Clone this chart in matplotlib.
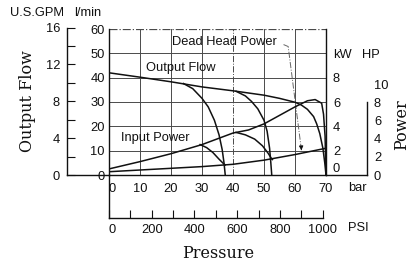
import matplotlib
matplotlib.use("Agg")
import matplotlib.pyplot as plt
import numpy as np

plt.rcParams["font.family"] = ["Liberation Sans", "DejaVu Sans"]
plt.rcParams["font.size"] = 9.3

# --- data (pressure in bar, flow in l/min, power in kW) ---
flow_main_bar = [0, 10, 20, 30, 40, 50, 55, 60, 62, 64, 66, 67, 68, 69, 69.6, 70]
flow_main_lpm = [42.0, 40.2, 38.3, 36.2, 34.6, 32.8, 31.5, 29.9, 28.8, 27.0, 24.0,
                 21.0, 17.0, 11.0, 5.0, 0]
flow_b1_bar = [24, 27, 30, 32, 34, 35.5, 36.5, 37.1, 37.5]
flow_b1_lpm = [37.6, 35.5, 31.5, 28.0, 22.5, 16.5, 10.5, 5.0, 0]
flow_b2_bar = [41, 44, 46, 48, 50, 51, 51.8, 52.2, 52.5]
flow_b2_lpm = [34.4, 32.5, 30.2, 27.2, 22.5, 18.0, 11.0, 5.0, 0]

power_main_bar = [0, 10, 20, 30, 40, 45, 50, 55, 60, 64, 66.5, 68.6, 69.2, 69.7, 70]
power_main_kw = [0.5, 1.1, 1.75, 2.5, 3.45, 3.7, 4.2, 4.9, 5.6, 6.1, 6.2, 5.9, 5.0,
                 3.2, 0]
power_b1_bar = [29.4, 31.5, 33.5, 35.5, 37.0, 37.5]
power_b1_kw = [2.5, 2.25, 1.85, 1.3, 0.92, 0.83]
power_b2_bar = [41.0, 44, 47, 49.5, 51.3, 52.3, 52.7]
power_b2_kw = [3.5, 3.3, 2.95, 2.4, 1.8, 1.4, 1.27]
dead_bar = [0, 10, 20, 30, 40, 50, 60, 70]
dead_kw = [0.27, 0.41, 0.55, 0.69, 0.88, 1.22, 1.68, 2.2]

bar_ticks = [0, 10, 20, 30, 40, 50, 60, 70]
lpm_ticks = [0, 10, 20, 30, 40, 50, 60]
kw_ticks = [0, 2, 4, 6, 8]
gpm_ticks = [0, 4, 8, 12, 16]
gpm_minor = [2, 6, 10, 14]
hp_ticks = [0, 2, 4, 6, 8, 10]
psi_ticks = [0, 200, 400, 600, 800, 1000]
psi_minor = [100, 300, 500, 700, 900]

LPM_PER_GPM = 3.78541
KW_PER_HP = 0.7457
PSI_PER_BAR = 14.5038
LPM_PER_KW = 5.0   # kW scale drawn on the flow grid

W, H = 410, 263


def rect(x0, y0, x1, y1):
    # pixel box (top-left origin) -> figure fraction
    return [x0 / W, 1 - y1 / H, (x1 - x0) / W, (y1 - y0) / H]


INK = "#111111"
GRID = "#4a4a4a"

fig = plt.figure(figsize=(W / 100, H / 100), dpi=100)
fig.patch.set_facecolor("white")

X0, X1, Y0, Y1 = 109, 326, 29, 175

# main chart
ax = fig.add_axes(rect(X0, Y0, X1, Y1))
ax.set_facecolor("none")
ax.set_xlim(0, 70)
ax.set_ylim(0, 60)
for v in bar_ticks[1:-1]:
    ax.axvline(v, color=GRID, lw=0.7, ls="-." if v == 40 else "-", zorder=1)
for v in lpm_ticks[1:-1]:
    ax.axhline(v, color=GRID, lw=0.7, zorder=1)
ax.axhline(60, color=GRID, lw=0.9, ls="-.", zorder=1)
ax.spines["top"].set_visible(False)
for s in ("left", "right", "bottom"):
    ax.spines[s].set_color(INK)
    ax.spines[s].set_linewidth(1.0)
ax.set_xticks(bar_ticks, [str(v) for v in bar_ticks])
ax.set_yticks(lpm_ticks, [str(v) for v in lpm_ticks])
ax.tick_params(axis="x", length=0, pad=6, colors=INK)
ax.tick_params(axis="y", length=0, pad=3, colors=INK)
ax.get_xticklabels()[0].set_horizontalalignment("left")

kw = lambda vals: [v * LPM_PER_KW for v in vals]
lw = 1.1
ax.plot(flow_main_bar, flow_main_lpm, color=INK, lw=lw, zorder=3)
ax.plot(flow_b1_bar, flow_b1_lpm, color=INK, lw=lw, zorder=3)
ax.plot(flow_b2_bar, flow_b2_lpm, color=INK, lw=lw, zorder=3)
ax.plot(power_main_bar, kw(power_main_kw), color=INK, lw=lw, zorder=3)
ax.plot(power_b1_bar, kw(power_b1_kw), color=INK, lw=lw, zorder=3)
ax.plot(power_b2_bar, kw(power_b2_kw), color=INK, lw=lw, zorder=3)
ax.plot(dead_bar, kw(dead_kw), color=INK, lw=lw, zorder=3)

ax.text(23.3, 43.8, "Output Flow", ha="center", va="center", color=INK)
ax.text(14.8, 15.2, "Input Power", ha="center", va="center", color=INK)
ax.text(37.1, 54.7, "Dead Head Power", ha="center", va="center", color=INK)
ax.plot([56.3, 57.8, 62.0], [53.6, 52.8, 11.0], color="#666666", lw=0.7,
        ls="-.", zorder=2)
ax.annotate("", xy=(62.1, 9.0), xytext=(62.0, 11.5),
            arrowprops=dict(arrowstyle="-|>", color=INK, lw=0.7,
                            mutation_scale=6))

# kW scale
ax_kw = ax.twinx()
ax_kw.set_ylim(0, 60 / LPM_PER_KW)
ax_kw.set_yticks(kw_ticks, [str(v) for v in kw_ticks])
ax_kw.tick_params(axis="y", length=0, pad=5, colors=INK)
for s in ax_kw.spines.values():
    s.set_visible(False)
ax_kw.get_yticklabels()[0].set_verticalalignment("bottom")

# GPM scale on the far left
ax_g = fig.add_axes(rect(67, Y1 - 16 * LPM_PER_GPM * (Y1 - Y0) / 60, X0, Y1))
ax_g.set_facecolor("none")
ax_g.set_ylim(0, 16)
ax_g.set_xticks([])
for s in ("top", "right"):
    ax_g.spines[s].set_visible(False)
for s in ("left", "bottom"):
    ax_g.spines[s].set_color(INK)
    ax_g.spines[s].set_linewidth(1.0)
ax_g.set_yticks(gpm_ticks, [str(v) for v in gpm_ticks])
ax_g.set_yticks(gpm_minor, minor=True)
ax_g.tick_params(axis="y", which="both", direction="in", length=6, width=0.8,
                 pad=5, colors=INK)

# HP scale on the right
ax_h = fig.add_axes(rect(X1, Y0, 367, Y1))
ax_h.set_facecolor("none")
ax_h.set_ylim(0, 60 / LPM_PER_KW / KW_PER_HP)
ax_h.set_xticks([])
ax_h.yaxis.tick_right()
for s in ("top", "left"):
    ax_h.spines[s].set_visible(False)
for s in ("right", "bottom"):
    ax_h.spines[s].set_color(INK)
    ax_h.spines[s].set_linewidth(1.0)
ax_h.spines["right"].set_bounds(0, 8)
ax_h.set_yticks(hp_ticks, [str(v) for v in hp_ticks])
ax_h.set_yticks([2, 4, 6, 8], minor=True)
ax_h.tick_params(axis="y", which="major", length=0, pad=5, colors=INK)
ax_h.tick_params(axis="y", which="minor", direction="in", length=6, width=0.8)

# PSI scale below
ax_p = fig.add_axes(rect(X0, Y1, X1, 218))
ax_p.set_facecolor("none")
ax_p.set_xlim(0, 70 * PSI_PER_BAR)
ax_p.set_yticks([])
for s in ("top", "right"):
    ax_p.spines[s].set_visible(False)
for s in ("left", "bottom"):
    ax_p.spines[s].set_color(INK)
    ax_p.spines[s].set_linewidth(1.0)
ax_p.spines["bottom"].set_bounds(0, 1000)
ax_p.set_xticks(psi_ticks, [str(v) for v in psi_ticks])
ax_p.set_xticks(psi_minor, minor=True)
ax_p.tick_params(axis="x", which="both", direction="in", length=6, width=0.8,
                 pad=4, colors=INK)
ax_p.get_xticklabels()[0].set_horizontalalignment("left")

# unit and axis titles
fig.text(10 / W, 1 - 13 / H, "U.S.GPM", ha="left", va="center", color=INK)
fig.text(101 / W, 1 - 13 / H, "l/min", ha="right", va="center", color=INK)
fig.text(333 / W, 1 - 55 / H, "kW", ha="left", va="center", color=INK)
fig.text(362 / W, 1 - 55 / H, "HP", ha="left", va="center", color=INK)
fig.text(348 / W, 1 - 188 / H, "bar", ha="left", va="center", color=INK)
fig.text(348 / W, 1 - 228 / H, "PSI", ha="left", va="center", color=INK)

serif = dict(family="DejaVu Serif", fontsize=11.5, color=INK)
fig.text(218 / W, 1 - 253 / H, "Pressure", ha="center", va="center", **serif)
fig.text(28 / W, 1 - 101 / H, "Output Flow", ha="center", va="center",
         rotation=90, **serif)
fig.text(402 / W, 1 - 125 / H, "Power", ha="center", va="center",
         rotation=90, **serif)

fig.savefig("out.png", dpi=100, facecolor="white")
